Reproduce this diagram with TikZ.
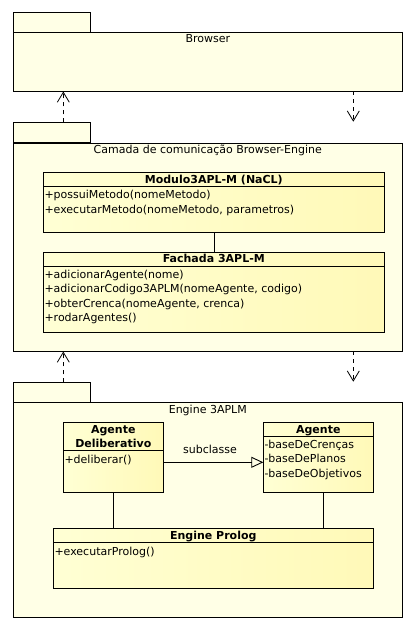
\documentclass[tikz,border=0pt]{standalone}
\usepackage{fontspec}
\setmainfont{DejaVu Sans}
\usetikzlibrary{calc,arrows.meta}
\definecolor{pkgfill}{RGB}{255,255,230}
\definecolor{clsleft}{RGB}{255,255,212}
\definecolor{clsright}{RGB}{255,249,184}
\begin{document}
\begin{tikzpicture}[x=1pt,y=-1pt,
  font=\fontsize{11}{13}\selectfont,
  pkg/.style={draw=black, fill=pkgfill, line width=0.9pt, inner sep=0pt, anchor=north west},
  cls/.style={draw=black, left color=clsleft, right color=clsright, line width=0.9pt, inner sep=0pt, anchor=north west},
  ttl/.style={inner sep=0pt, anchor=center, text height=8.5pt, text depth=2.5pt},
  hdr/.style={inner sep=0pt, anchor=center, text height=8.5pt, text depth=2.5pt, font=\fontsize{11}{13}\selectfont\bfseries},
  op/.style={inner sep=0pt, anchor=west, text height=8.5pt, text depth=2.5pt},
  sep/.style={line width=0.9pt},
  link/.style={line width=0.9pt},
  dep/.style={line width=0.8pt, dash pattern=on 4pt off 4pt, -{Straight Barb[length=10pt,width=12pt,line width=0.8pt]}},
  gen/.style={line width=0.9pt, -{Triangle[open,length=12pt,width=11pt,line width=0.9pt]}}]
\useasboundingbox (0,0) rectangle (418,626);

% Browser package
\node[pkg, minimum width=77pt, minimum height=20pt] (btab) at (13.3,12.3) {};
\node[pkg, minimum width=389pt, minimum height=58.7pt] (browser) at (13.3,32.3) {};
\node[ttl] (btitle) at (207.8,40) {Browser};

% Camada package
\node[pkg, minimum width=77pt, minimum height=20pt] (ctab) at (13.3,122.3) {};
\node[pkg, minimum width=389pt, minimum height=208.5pt] (camada) at (13.3,142.5) {};
\node[ttl] (ctitle) at (207.8,150) {Camada de comunicação Browser-Engine};

\coordinate (c1) at (63.3,122.3);
\coordinate (b1) at (63.3,91.5);
\coordinate (b2) at (353.3,91.3);
\coordinate (c2) at (353.3,121.7);
\draw[dep] (c1) -- (b1);
\draw[dep] (b2) -- (c2);

% Modulo class
\node[cls, minimum width=341pt, minimum height=60pt] (modulo) at (43.3,172.3) {};
\draw[sep] ($(modulo.north west)+(0,14.5)$) -- ($(modulo.north east)+(0,14.5)$);
\node[hdr] (modh) at (213.8,180.3) {Modulo3APL-M (NaCL)};
\node[op] (mod1) at (44.3,195.3) {+possuiMetodo(nomeMetodo)};
\node[op] (mod2) at (44.3,210) {+executarMetodo(nomeMetodo, parametros)};

% Fachada class
\node[cls, minimum width=341pt, minimum height=80pt] (fachada) at (43.3,252.3) {};
\draw[sep] ($(fachada.north west)+(0,14)$) -- ($(fachada.north east)+(0,14)$);
\node[hdr] (fach) at (213.8,259.8) {Fachada 3APL-M};
\node[op] (fa1) at (44.3,275.3) {+adicionarAgente(nome)};
\node[op] (fa2) at (44.3,289.8) {+adicionarCodigo3APLM(nomeAgente, codigo)};
\node[op] (fa3) at (44.3,304.3) {+obterCrenca(nomeAgente, crenca)};
\node[op] (fa4) at (44.3,318.8) {+rodarAgentes()};

\draw[link] (modulo.south) -- (fachada.north);

% Engine package
\node[pkg, minimum width=77pt, minimum height=20pt] (etab) at (13.3,382.3) {};
\node[pkg, minimum width=389pt, minimum height=215pt] (engine) at (13.3,402.3) {};
\node[ttl] (etitle) at (207.8,410) {Engine 3APLM};

\coordinate (e1) at (63.3,382.3);
\coordinate (k1) at (63.3,351.5);
\coordinate (k2) at (353.3,351.3);
\coordinate (e2) at (353.3,381.7);
\draw[dep] (e1) -- (k1);
\draw[dep] (k2) -- (e2);

% Agente Deliberativo
\node[cls, minimum width=100pt, minimum height=70pt] (agdel) at (63.3,422.3) {};
\draw[sep] ($(agdel.north west)+(0,28.4)$) -- ($(agdel.north east)+(0,28.4)$);
\node[hdr] (agdh1) at (113.3,430) {Agente};
\node[hdr] (agdh2) at (113.3,444) {Deliberativo};
\node[op] (agd1) at (64.3,460) {+deliberar()};

% Agente
\node[cls, minimum width=110pt, minimum height=70pt] (agente) at (263.3,422.3) {};
\draw[sep] ($(agente.north west)+(0,13.7)$) -- ($(agente.north east)+(0,13.7)$);
\node[hdr] (agh) at (318.3,430) {Agente};
\node[op] (ag1) at (264.3,445.5) {-baseDeCrenças};
\node[op] (ag2) at (264.3,459.8) {-baseDePlanos};
\node[op] (ag3) at (264.3,474) {-baseDeObjetivos};

\draw[gen] ($(agdel.north east)+(0,40)$) -- ($(agente.north west)+(0,40)$);
\node[ttl] (subl) at (210,450) {subclasse};

% Engine Prolog
\node[cls, minimum width=320pt, minimum height=60pt] (prolog) at (53.3,528.3) {};
\draw[sep] ($(prolog.north west)+(0,13.7)$) -- ($(prolog.north east)+(0,13.7)$);
\node[hdr] (prh) at (213.3,536) {Engine Prolog};
\node[op] (pr1) at (54.3,552.3) {+executarProlog()};

\coordinate (agl) at ($(agente.south)+(5,0)$);
\draw[link] (agdel.south) -- (agdel.south |- prolog.north);
\draw[link] (agl) -- (agl |- prolog.north);
\end{tikzpicture}
\end{document}
